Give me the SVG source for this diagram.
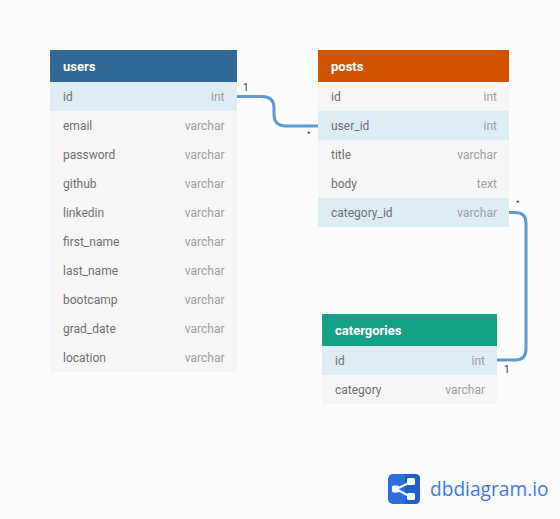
<svg xmlns="http://www.w3.org/2000/svg" width="560" height="519" viewBox="0 0 560 519">
<style>
text{font-family:Roboto,"Liberation Sans",sans-serif;font-size:12px}
.row{fill:#f6f6f6}.hl{fill:#deecf4}
.n{fill:#707070}.t{fill:#a0a0a0;text-anchor:end}
.h{fill:#fff;font-size:13px;font-weight:700}
.c{fill:none;stroke:#5f9bce;stroke-width:3}
.m{fill:#333;font-size:10px}
.s{fill:#222;font-size:7px}
.k{fill:#fff}
</style>
<rect width="560" height="519" fill="#fcfcfc"/>
<g id="connectors">
<path class="c" d="M237 96.500H262Q274 96.500 274 108V114Q274 126 286 126H318"/>
<path class="c" d="M509 212.500H515Q526 212.500 526 223V349Q526 360 515 360H497"/>
<text class="m" x="243" y="91">1</text>
<text class="s" x="307.300" y="136">*</text>
<text class="s" x="516.300" y="205">*</text>
<text class="m" x="504" y="373">1</text>
</g>
<g id="users">
<rect x="50" y="50" width="187" height="32" fill="#316896"/>
<text class="h" x="63" y="71">users</text>
<rect class="hl" x="50" y="82" width="187" height="29"/>
<rect class="row" x="50" y="111" width="187" height="261"/>
<text class="n" x="63" y="101">id</text><text class="t" x="224.500" y="101">int</text>
<text class="n" x="63" y="130">email</text><text class="t" x="224.500" y="130">varchar</text>
<text class="n" x="63" y="159">password</text><text class="t" x="224.500" y="159">varchar</text>
<text class="n" x="63" y="188">github</text><text class="t" x="224.500" y="188">varchar</text>
<text class="n" x="63" y="217">linkedin</text><text class="t" x="224.500" y="217">varchar</text>
<text class="n" x="63" y="246">first_name</text><text class="t" x="224.500" y="246">varchar</text>
<text class="n" x="63" y="275">last_name</text><text class="t" x="224.500" y="275">varchar</text>
<text class="n" x="63" y="304">bootcamp</text><text class="t" x="224.500" y="304">varchar</text>
<text class="n" x="63" y="333">grad_date</text><text class="t" x="224.500" y="333">varchar</text>
<text class="n" x="63" y="362">location</text><text class="t" x="224.500" y="362">varchar</text>
</g>
<g id="posts">
<rect x="318" y="50" width="191" height="32" fill="#d35400"/>
<text class="h" x="331" y="71">posts</text>
<rect class="row" x="318" y="82" width="191" height="145"/>
<rect class="hl" x="318" y="111" width="191" height="29"/>
<rect class="hl" x="318" y="198" width="191" height="29"/>
<text class="n" x="331" y="101">id</text><text class="t" x="497" y="101">int</text>
<text class="n" x="331" y="130">user_id</text><text class="t" x="497" y="130">int</text>
<text class="n" x="331" y="159">title</text><text class="t" x="497" y="159">varchar</text>
<text class="n" x="331" y="188">body</text><text class="t" x="497" y="188">text</text>
<text class="n" x="331" y="217">category_id</text><text class="t" x="497" y="217">varchar</text>
</g>
<g id="catergories">
<rect x="322" y="314" width="175" height="32" fill="#16a085"/>
<text class="h" x="335" y="335">catergories</text>
<rect class="hl" x="322" y="346" width="175" height="29"/>
<rect class="row" x="322" y="375" width="175" height="29"/>
<text class="n" x="335" y="365">id</text><text class="t" x="485" y="365">int</text>
<text class="n" x="335" y="394">category</text><text class="t" x="485" y="394">varchar</text>
</g>
<g id="logo">
<rect x="388" y="474" width="32" height="30" rx="5" fill="#2b6fdc"/>
<path d="M405 474H415Q420 474 420 479V499Q420 504 415 504H405Z" fill="#1f5fc8"/>
<path d="M411 482L396 489L411 497" fill="none" stroke="#fff" stroke-width="2"/>
<rect class="k" x="392" y="485.500" width="7" height="7" rx="1.500"/>
<rect class="k" x="407" y="478" width="8" height="7" rx="1.500"/>
<rect class="k" x="407" y="493" width="8" height="7" rx="1.500"/>
<text x="430" y="496" textLength="118.500" lengthAdjust="spacingAndGlyphs" style="font-family:'Open Sans',sans-serif;font-size:20px;fill:#3b7bdc">dbdiagram.io</text>
</g>
</svg>
